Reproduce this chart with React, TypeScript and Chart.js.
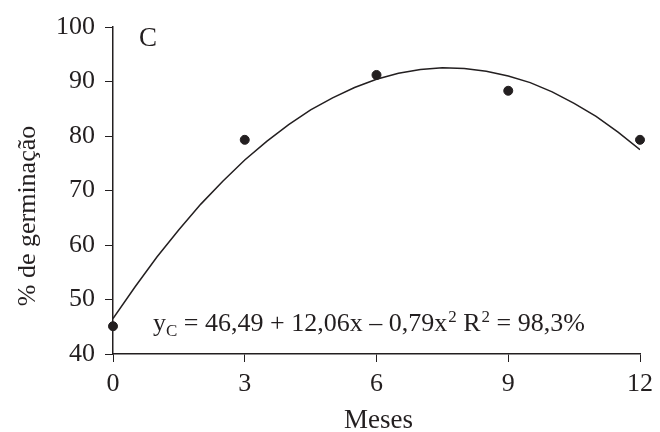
import React, { useEffect, useRef } from "react";
import { Chart, registerables } from "chart.js";

Chart.register(...registerables);

const monthsObserved = [0, 3, 6, 9, 12];
const germinationObserved = [45.1, 79.3, 91.2, 88.3, 79.3];
const curveMonths = [0, 0.5, 1, 1.5, 2, 2.5, 3, 3.5, 4, 4.5, 5, 5.5, 6, 6.5, 7, 7.5, 8, 8.5, 9, 9.5, 10, 10.5, 11, 11.5, 12];
const curveValues = [46.5, 52.3, 57.8, 62.8, 67.5, 71.7, 75.6, 79.0, 82.1, 84.8, 87.0, 88.9, 90.4, 91.5, 92.2, 92.5, 92.4, 91.9, 91.0, 89.8, 88.1, 86.0, 83.6, 80.7, 77.5];
const xTicks = [0, 3, 6, 9, 12];
const yTicks = [40, 50, 60, 70, 80, 90, 100];
const panelLabel = "C";
const xTitle = "Meses";
const yTitle = "% de germinação";
const equationParts: [string, string][] = [
  ["y", "n"],
  ["C", "sub"],
  [" = 46,49 + 12,06x – 0,79x", "n"],
  ["2", "sup"],
  [" R", "n"],
  ["2", "sup"],
  [" = 98,3%", "n"],
];

const FONT = "'Liberation Serif', 'Times New Roman', serif";
const INK = "#231f20";

const annotationPlugin = {
  id: "annot",
  afterDraw(chart: any) {
    const ctx = chart.ctx;
    const area = chart.chartArea;
    ctx.save();
    ctx.fillStyle = INK;
    ctx.textBaseline = "alphabetic";
    ctx.textAlign = "left";
    // panel label
    ctx.font = `27px ${FONT}`;
    ctx.fillText(panelLabel, 139, 46);
    // equation
    let x = 153;
    const base = 331;
    for (const [t, k] of equationParts) {
      if (k === "n") {
        ctx.font = `26px ${FONT}`;
        ctx.fillText(t, x, base);
      } else if (k === "sub") {
        ctx.font = `17px ${FONT}`;
        ctx.fillText(t, x, base + 5);
      } else {
        ctx.font = `17px ${FONT}`;
        ctx.fillText(t, x + 1, base - 9);
      }
      x += ctx.measureText(t).width + (k === "sup" ? 1 : 0);
    }
    // x title
    ctx.font = `27px ${FONT}`;
    ctx.textAlign = "center";
    ctx.fillText(xTitle, (area.left + area.right) / 2 + 2, 428);
    // y title
    ctx.font = `26px ${FONT}`;
    ctx.save();
    ctx.translate(35, 216);
    ctx.rotate(-Math.PI / 2);
    ctx.textAlign = "center";
    ctx.fillText(yTitle, 0, 0);
    ctx.restore();
    ctx.restore();
  },
};

export default function App() {
  const ref = useRef<HTMLCanvasElement>(null);
  useEffect(() => {
    if (!ref.current) return;
    const chart = new Chart(ref.current, {
      type: "scatter",
      data: {
        datasets: [
          {
            type: "line",
            data: curveMonths.map((m, i) => ({ x: m, y: curveValues[i] })),
            borderColor: INK,
            borderWidth: 1.5,
            pointRadius: 0,
            tension: 0,
            fill: false,
          } as any,
          {
            type: "scatter",
            data: monthsObserved.map((m, i) => ({ x: m, y: germinationObserved[i] })),
            backgroundColor: INK,
            borderColor: INK,
            pointRadius: 4.5,
            clip: false,
          } as any,
        ],
      },
      options: {
        animation: false,
        responsive: false,
        layout: { padding: { top: 27, right: 13, left: 0, bottom: 0 } },
        plugins: { legend: { display: false }, tooltip: { enabled: false } },
        scales: {
          x: {
            type: "linear",
            min: 0,
            max: 12,
            afterBuildTicks: (s: any) => {
              s.ticks = xTicks.map((v) => ({ value: v }));
            },
            afterFit: (s: any) => {
              s.height = 78;
            },
            grid: {
              drawOnChartArea: false,
              drawTicks: true,
              tickLength: 8,
              color: INK,
            },
            border: { display: true, color: INK, width: 1.5 },
            ticks: {
              color: INK,
              font: { family: FONT, size: 26 },
              padding: 7,
              maxRotation: 0,
            },
          },
          y: {
            type: "linear",
            min: 40,
            max: 100,
            afterBuildTicks: (s: any) => {
              s.ticks = yTicks.map((v) => ({ value: v }));
            },
            afterFit: (s: any) => {
              s.width = 113;
            },
            grid: {
              drawOnChartArea: false,
              drawTicks: true,
              tickLength: 8,
              color: INK,
            },
            border: { display: true, color: INK, width: 1.5 },
            ticks: {
              color: INK,
              font: { family: FONT, size: 26 },
              padding: 10,
            },
          },
        },
      },
      plugins: [annotationPlugin],
    } as any);
    return () => chart.destroy();
  }, []);
  return (
    <div style={{ position: "fixed", left: 0, top: 0, width: 660, height: 432, background: "#fff" }}>
      <canvas ref={ref} width={660} height={432} style={{ width: 660, height: 432 }} />
    </div>
  );
}
